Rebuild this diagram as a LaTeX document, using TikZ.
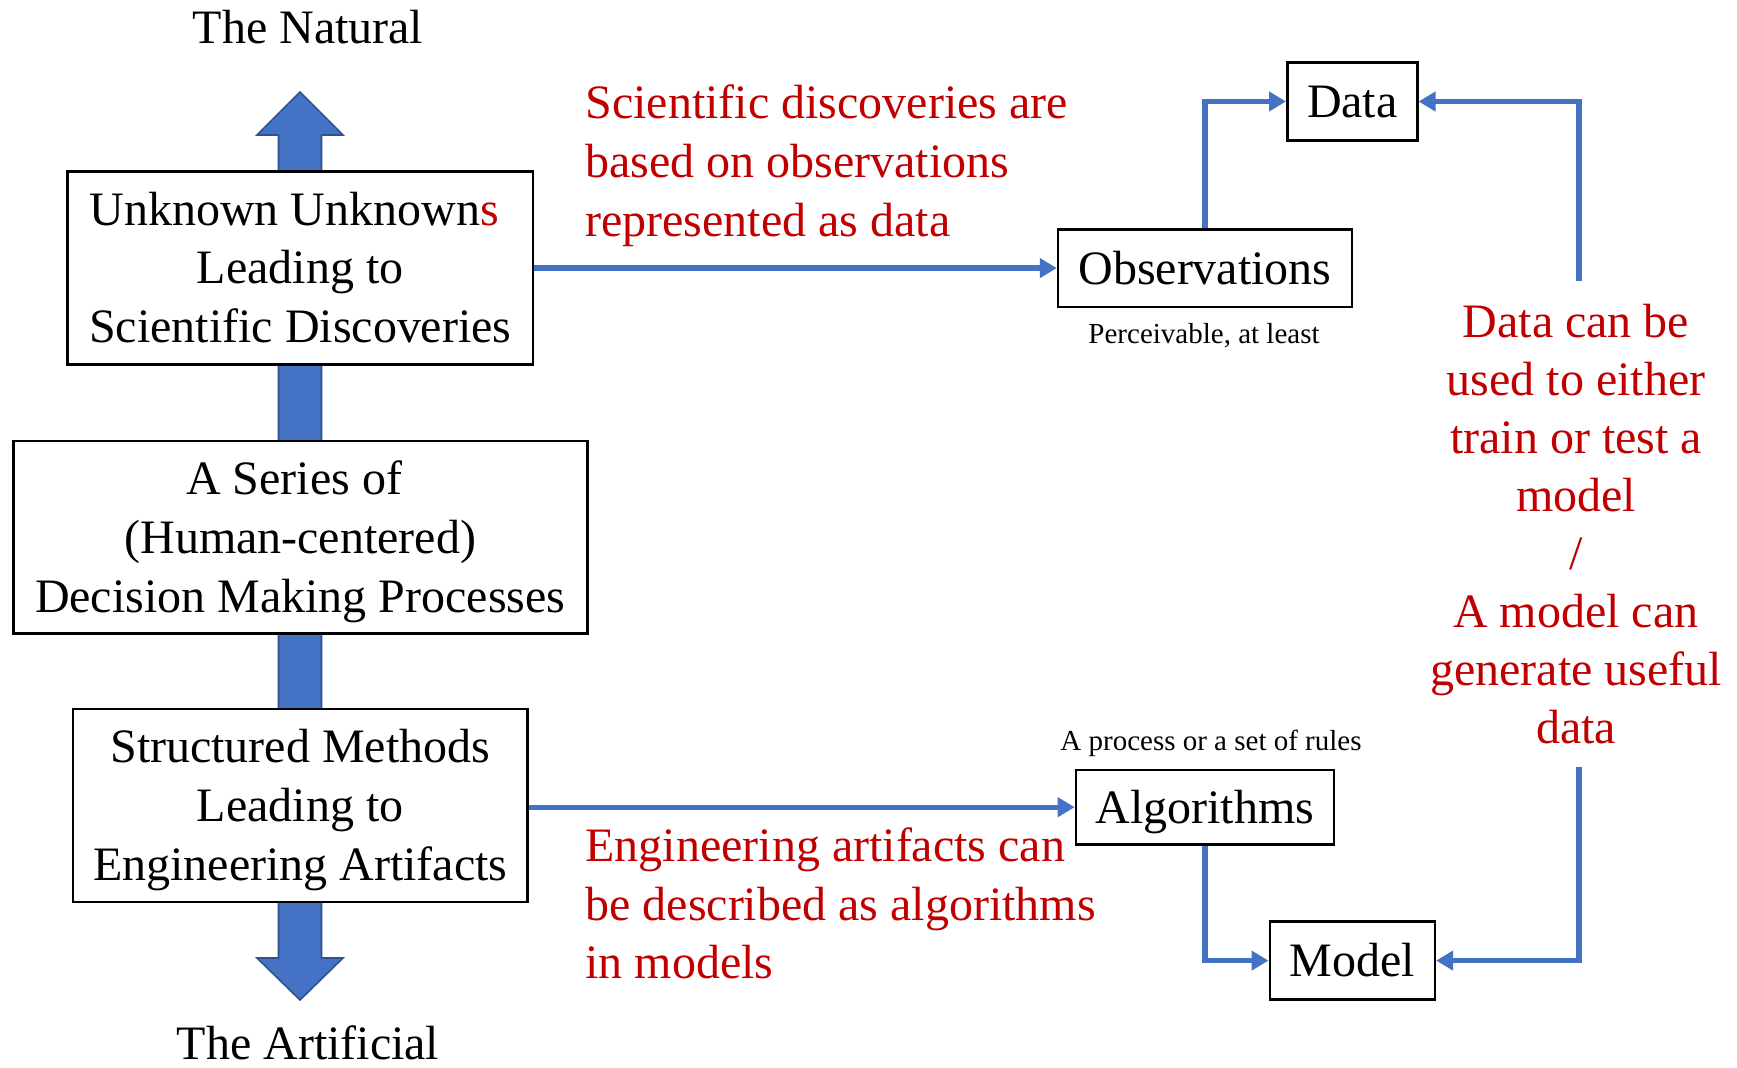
\documentclass[tikz,border=0pt]{standalone}
\usepackage{fontspec}
\setmainfont{Liberation Serif}
\usetikzlibrary{arrows.meta}
\definecolor{oblue}{HTML}{4472C4}
\definecolor{oblued}{HTML}{2F528F}
\definecolor{ored}{HTML}{C00000}
\newcommand\bigtxt{\fontsize{24}{29.4}\selectfont}
\newcommand\righttxt{\fontsize{24}{29}\selectfont}
\newcommand\smalltxt{\fontsize{14.5}{17}\selectfont}
\newcommand\tsp{\hspace*{0.25em}}
\newcommand\bstrut{\rule[-5.2pt]{0pt}{26.4pt}}
\begin{document}
\begin{tikzpicture}[x=0.5pt,y=-0.5pt,
  box/.style={draw=black, line width=1.3pt, fill=white, align=center, inner sep=0pt, font=\bigtxt},
  lbl/.style={inner sep=0pt, font=\bigtxt},
  redlbl/.style={inner sep=0pt, font=\bigtxt, text=ored},
  small/.style={inner sep=0pt, font=\smalltxt},
  conn/.style={draw=oblue, line width=2.65pt, -{Triangle[length=8.5pt,width=9.5pt]}},
  blockarrow/.style={fill=oblue, draw=oblued, line width=0.8pt}]
\useasboundingbox (0,0) rectangle (1737,1068);
\fill[white] (0,0) rectangle (1737,1068);

% big double block arrow behind the boxes
\draw[blockarrow] (300,92) -- (343,135) -- (321.5,135) -- (321.5,958) -- (343,958)
  -- (300,1000) -- (257,958) -- (278.5,958) -- (278.5,135) -- (257,135) -- cycle;

% boxes
\node[box, minimum width=232.7pt, minimum height=96.4pt] (b1) at (300.3,268)
  {\bstrut Unknown Unknown\textcolor{ored}{s}\tsp\\Leading to\tsp\\Scientific Discoveries\bstrut};
\node[box, minimum width=287pt, minimum height=96.4pt] (b2) at (300.3,537.4)
  {\bstrut A Series of\tsp\\(Human-centered)\\Decision Making Processes\bstrut};
\node[box, minimum width=227.2pt, minimum height=96.4pt] (b3) at (300.3,805.5)
  {\bstrut Structured Methods\\Leading to\tsp\\Engineering Artifacts\bstrut};

\node[box, minimum width=146.9pt, minimum height=38.8pt] (obs) at (1205,268.1) {\bstrut Observations};
\node[box, minimum width=65pt, minimum height=38.8pt] (data) at (1352.3,101.5) {\bstrut Data};
\node[box, minimum width=129pt, minimum height=37.1pt] (alg) at (1205,807.2) {\bstrut Algorithms};
\node[box, minimum width=82.5pt, minimum height=38.8pt] (model) at (1352.3,960.6) {\bstrut Model};

% labels
\node[lbl, anchor=base] (nat) at (308,44) {The Natural};
\node[lbl, anchor=base] (art) at (308,1060) {The Artificial};
\node[small, anchor=base] (perc) at (1204,344) {Perceivable, at least};
\node[small, anchor=base] (proc) at (1211,751) {A process or a set of rules};

\node[redlbl, align=left, anchor=west] (t1) at (585,165.5)
  {Scientific discoveries are\\based on observations\\represented as data};
\node[redlbl, align=left, anchor=west] (t2) at (585,903.5)
  {Engineering artifacts can\\be described as algorithms\\in models};
\node[redlbl, font=\righttxt, align=center] (t3) at (1576,524)
  {Data can be\\used to either\\train or test a\\model\\/\\A model can\\generate useful\\data};

% connectors
\coordinate (c1) at (1579,281);
\coordinate (c2) at (1579,767);
\draw[conn] (b1.east |- obs.west) -- (obs.west);
\draw[conn] (b3.east |- alg.west) -- (alg.west);
\draw[conn] (obs.north) |- (data.west);
\draw[conn] (alg.south) |- (model.west);
\draw[conn] (c1) |- (data.east);
\draw[conn] (c2) |- (model.east);
\end{tikzpicture}
\end{document}
